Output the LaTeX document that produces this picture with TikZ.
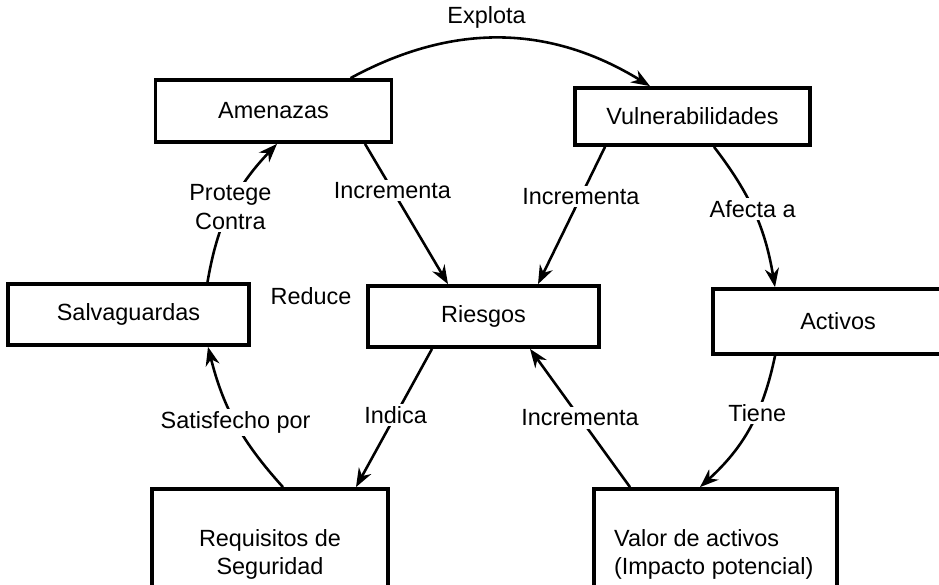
\documentclass[tikz,border=0pt]{standalone}
\usepackage{fontspec}
\setmainfont{Liberation Sans}
\usetikzlibrary{arrows.meta}

\begin{document}
\begin{tikzpicture}[%
    x=0.3mm, y=0.3mm,
    >={Stealth[length=16pt,width=12pt]},
    font=\fontsize{20}{24}\selectfont,
    box/.style={draw, rectangle, line width=3.2pt, inner sep=0pt},
    lbl/.style={fill=white, inner sep=2pt},
    line width=2.2pt
  ]
    \useasboundingbox (0,0) rectangle (939,584);
    \clip (0,0) rectangle (939,584);

    \node[box, minimum width=70.8mm, minimum height=18.6mm] (Amen) at (273.5,473) {Amenazas};
    \node[box, minimum width=70.5mm, minimum height=17.1mm] (Vuln) at (692.5,467.5) {Vulnerabilidades};
    \node[box, minimum width=72.3mm, minimum height=18.3mm] (Salv) at (128.5,269.5) {Salvaguardas};
    \node[box, minimum width=69.3mm, minimum height=18.3mm] (Riesg) at (483.5,267.5) {Riesgos};
    \node[box, minimum width=75mm, minimum height=19.5mm] (Act) at (838,262.5) {Activos};
    \node[box, minimum width=70.8mm, minimum height=39mm, align=center] (Req) at (270,30) {Requisitos de\\Seguridad};
    \node[box, minimum width=72.9mm, minimum height=39mm, align=left] (Val) at (715.5,30) {Valor de activos\\(Impacto potencial)\hspace*{3pt}};
    \node (Red) at (311,288) {Reduce};

    \path[->] ([xshift=23.1mm]Amen.north)   edge [bend left=30] node[above=4pt, pos=.45] {Explota} ([xshift=-12.75mm]Vuln.north)
              ([xshift=27.45mm]Amen.south)  edge node[lbl, pos=.33] {Incrementa} ([xshift=-10.65mm]Riesg.north)
              ([xshift=-26.25mm]Vuln.south) edge node[lbl, pos=.36] {Incrementa} ([xshift=16.35mm]Riesg.north)
              ([xshift=6.45mm]Vuln.south)   edge [bend left=14] node[lbl, pos=.47] {Afecta a} ([xshift=-18.9mm]Act.north)
              ([xshift=-18.9mm]Act.south)   edge [bend left=18] node[lbl, pos=.38] {Tiene} ([xshift=-4.65mm]Val.north)
              ([xshift=-25.65mm]Val.north)  edge node[lbl, pos=.5] {Incrementa} ([xshift=13.95mm]Riesg.south)
              ([xshift=-15.45mm]Riesg.south) edge node[lbl, pos=.48] {Indica} ([xshift=25.8mm]Req.north)
              ([xshift=3.9mm]Req.north)     edge [bend left=14] node[lbl, pos=.5] {Satisfecho por} ([xshift=23.85mm]Salv.south)
              ([xshift=23.7mm]Salv.north)   edge [bend left=17] node[lbl, pos=.5, align=center] {Protege\\Contra} ([xshift=1.05mm]Amen.south);
\end{tikzpicture}
\end{document}
